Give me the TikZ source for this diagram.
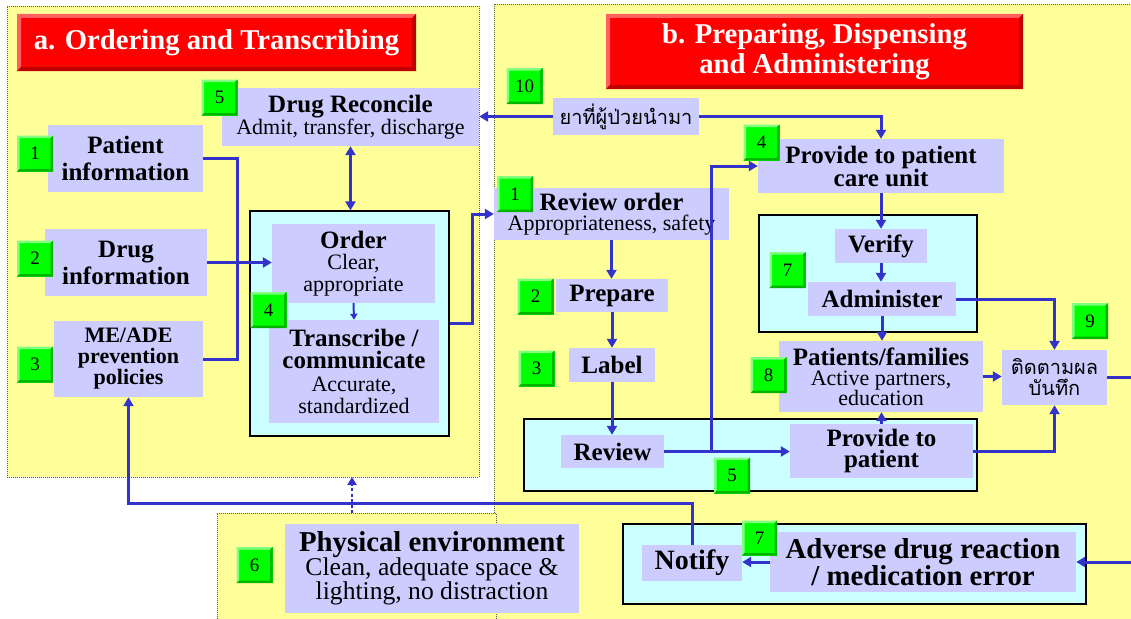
\documentclass[tikz,border=0pt]{standalone}
\usepackage{fontspec}
\setmainfont{Liberation Serif}
\newfontfamily\thaifont[Script=Thai]{Loma}
\usetikzlibrary{arrows.meta,calc}

\definecolor{panel}{HTML}{FFFF99}
\definecolor{lav}{HTML}{CCCCFF}
\definecolor{aqua}{HTML}{CCFFFF}
\definecolor{flow}{HTML}{3333CC}
\definecolor{tagg}{HTML}{00FF00}
\definecolor{tagl}{HTML}{80FF80}
\definecolor{tagd}{HTML}{00B400}
\definecolor{ttl}{HTML}{FF0000}
\definecolor{ttll}{HTML}{FF6060}
\definecolor{ttld}{HTML}{C00000}

\newcommand\hdf[2]{\fontsize{#1}{#2}\selectfont\bfseries}
\newcommand\smf[2]{\fontsize{#1}{#2}\selectfont\mdseries}

\begin{document}
\begin{tikzpicture}[x=1pt,y=-1pt,
  bevel/.style n args={3}{path picture={
    \fill[#1] (path picture bounding box.south west) -- (path picture bounding box.north west)
      -- (path picture bounding box.north east) -- ++(-#3,-#3)
      -| ($(path picture bounding box.south west)+(#3,#3)$) -- cycle;
    \fill[#2] (path picture bounding box.south west) -- (path picture bounding box.south east)
      -- (path picture bounding box.north east) -- ++(-#3,-#3)
      |- ($(path picture bounding box.south west)+(#3,#3)$) -- cycle;}},
  panelbox/.style={fill=panel, draw=black!65, line width=0.8pt, dash pattern=on 1pt off 1pt, inner sep=0pt},
  aq/.style={fill=aqua, draw=black, line width=1.2pt, inner sep=0pt},
  box/.style={fill=lav, inner sep=0pt, align=center},
  tag/.style={fill=tagg, minimum size=36pt, inner sep=0pt, font=\fontsize{19}{19}\selectfont, bevel={tagl}{tagd}{2.5pt}},
  ttlbox/.style={fill=ttl, inner sep=0pt, align=center, text=white, font=\fontsize{28.7}{30}\selectfont\bfseries, bevel={ttll}{ttld}{4pt}},
  thaitext/.style={font=\thaifont\fontsize{20}{21}\selectfont},
  link/.style={draw=flow, line width=3pt},
  arr/.style={link, -{Triangle[length=9pt,width=10pt]}},
  twoway/.style={link, {Triangle[length=9pt,width=10pt]}-{Triangle[length=9pt,width=10pt]}},
  smallarr/.style={draw=flow, line width=2pt, -{Triangle[length=6pt,width=7pt]}},
  dotarr/.style={draw=flow, line width=2pt, dash pattern=on 3pt off 2.5pt, -{Triangle[length=8pt,width=9pt]}},
]
\path[use as bounding box] (0,0) rectangle (1131,618);
\clip (0,0) rectangle (1131,618);
\fill[white] (0,0) rectangle (1131,618);

% background panels
\node[panelbox, minimum width=472pt, minimum height=471pt] (pa) at (243,241.5) {};
\node[panelbox, minimum width=646pt, minimum height=626pt] (pb) at (817,317) {};
\node[panelbox, minimum width=279pt, minimum height=117pt] (pe) at (356.5,571.5) {};

% titles
\node[ttlbox, minimum width=399pt, minimum height=57pt] (ta) at (216.5,42.5) {a. Ordering and Transcribing};
\node[ttlbox, minimum width=417pt, minimum height=75pt] (tb) at (814.5,51.5) {b. Preparing, Dispensing\\and Administering};

% grouping frames
\node[aq, minimum width=199pt, minimum height=225pt] (ca) at (349.5,323.5) {};
\node[aq, minimum width=453pt, minimum height=72pt] (cb) at (750.5,455) {};
\node[aq, minimum width=218pt, minimum height=117pt] (cv) at (868,273.5) {};
\node[aq, minimum width=463pt, minimum height=80pt] (cd) at (854.5,564) {};

% ordering and transcribing
\node[box, font=\hdf{25}{22}, minimum width=257pt, minimum height=58pt] (recon) at (350.5,117) {Drug Reconcile\\\smf{22}{22}Admit, transfer, discharge};
\node[box, font=\hdf{25}{27}, minimum width=155pt, minimum height=67pt] (patinfo) at (125.5,158.5) {Patient\\information};
\node[box, font=\hdf{25}{27}, minimum width=162pt, minimum height=67pt] (druginfo) at (126,262.5) {Drug\\information};
\node[box, font=\hdf{22}{21}, minimum width=149pt, minimum height=76pt] (meade) at (128.5,359) {ME/ADE\\prevention\\policies};
\node[box, font=\hdf{25}{21.5}, minimum width=163pt, minimum height=79pt] (order) at (353.5,263.5) {Order\\\smf{22}{21.5}Clear,\\\smf{22}{21.5}appropriate};
\node[box, font=\hdf{25}{22.5}, minimum width=170pt, minimum height=103pt] (transcribe) at (354,371.5) {Transcribe /\\communicate\\\smf{22}{22.5}Accurate,\\\smf{22}{22.5}standardized};
\node[box, font=\hdf{28.8}{24}, minimum width=294pt, minimum height=89pt] (physenv) at (432,568.5) {Physical environment\\\smf{25.6}{24}Clean, adequate space \&\\\smf{25.6}{24}lighting, no distraction};

% preparing, dispensing and administering
\node[box, thaitext, minimum width=146pt, minimum height=37pt] (thaidrug) at (626,116.5) {ยาที่ผู้ป่วยนำมา};
\node[box, font=\hdf{25}{23}, minimum width=246pt, minimum height=54pt] (pcu) at (881,166) {Provide to patient\\care unit};
\node[box, font=\hdf{25}{20}, minimum width=235pt, minimum height=52pt] (revorder) at (611.5,214) {Review order\\\smf{22}{20}Appropriateness, safety};
\node[box, font=\hdf{25}{25}, minimum width=112pt, minimum height=33pt] (prepare) at (612,295.5) {Prepare};
\node[box, font=\hdf{25}{25}, minimum width=86pt, minimum height=34pt] (label) at (612,365) {Label};
\node[box, font=\hdf{25}{25}, minimum width=103pt, minimum height=33pt] (review) at (612.5,451.5) {Review};
\node[box, font=\hdf{25}{21}, minimum width=183pt, minimum height=54pt] (provide) at (881.5,451) {Provide to\\patient};
\node[box, font=\hdf{25}{25}, minimum width=92pt, minimum height=34pt] (verify) at (881,246) {Verify};
\node[box, font=\hdf{25}{25}, minimum width=148pt, minimum height=34pt] (administer) at (882,299) {Administer};
\node[box, font=\hdf{25}{20}, minimum width=204pt, minimum height=71pt] (patients) at (881,376.5) {Patients/families\\\smf{22}{20}Active partners,\\\smf{22}{20}education};
\node[box, thaitext, minimum width=105pt, minimum height=55pt] (follow) at (1054.5,377.5) {ติดตามผล\\บันทึก};
\node[box, font=\hdf{28}{28}, minimum width=100pt, minimum height=36pt] (notify) at (692,563) {Notify};
\node[box, font=\hdf{28.8}{25}, minimum width=306pt, minimum height=60pt] (adr) at (923,562) {Adverse drug reaction\\/ medication error};

% numbered tags
\node[tag] (ta5) at (219.5,97.5) {5};
\node[tag] (ta1) at (35,153.5) {1};
\node[tag] (ta2) at (35,258.5) {2};
\node[tag] (ta3) at (35,364.5) {3};
\node[tag] (ta4) at (268.5,310) {4};
\node[tag] (te6) at (254.5,565) {6};
\node[tag] (tb10) at (524.5,86) {10};
\node[tag] (tb4) at (761.5,142.5) {4};
\node[tag] (tb1) at (515,194) {1};
\node[tag] (tb2) at (535.5,296.5) {2};
\node[tag] (tb3) at (536.5,368.5) {3};
\node[tag] (tb5) at (732,475.5) {5};
\node[tag] (tb7) at (787.5,270) {7};
\node[tag] (tb8) at (768.5,375) {8};
\node[tag] (tb9) at (1090,321) {9};
\node[tag, minimum size=35pt] (tb7b) at (759.5,538) {7};

% connection points
\coordinate (brk) at (237,359);
\coordinate (split) at (711,451.5);
\coordinate (bend) at (128.5,503);
\coordinate (envtop) at (352,513);
\coordinate (pabot) at (352,477);

% connectors, ordering side
\draw[link] (patinfo.east) -| (brk) -- (meade.east);
\draw[arr] (druginfo.east) -- (druginfo.east -| order.west);
\draw[twoway] (recon.south) -- (recon.south |- ca.north);
\draw[smallarr] (order.south) -- (transcribe.north);
\draw[arr] (ca.east) -- ++(23,0) |- (revorder.west);
\draw[dotarr] (envtop) -- (pabot);

% connectors, dispensing side
\draw[arr] (thaidrug.west) -- (thaidrug.west -| recon.east);
\draw[arr] (thaidrug.east) -| (pcu.north);
\draw[arr] (pcu.south) -- (pcu.south |- verify.north);
\draw[arr] (verify.south) -- (verify.south |- administer.north);
\draw[arr] (administer.south) -- (administer.south |- patients.north);
\draw[arr] (administer.east) -| (follow.north);
\draw[arr] (patients.east) -- (patients.east -| follow.west);
\draw[arr] (provide.east) -| (follow.south);
\draw[arr] (provide.north) -- (provide.north |- patients.south);
\draw[arr] (revorder.south) -- (revorder.south |- prepare.north);
\draw[arr] (prepare.south) -- (prepare.south |- label.north);
\draw[arr] (label.south) -- (label.south |- review.north);
\draw[arr] (review.east) -- (review.east -| provide.west);
\draw[arr] (split) |- (pcu.west);
\draw[arr] (follow.east) -- ++(40,0) |- (adr.east);
\draw[arr] (adr.west) -- (adr.west -| notify.east);
\draw[arr] (notify.north) |- (bend) -- (meade.south);
\end{tikzpicture}
\end{document}
